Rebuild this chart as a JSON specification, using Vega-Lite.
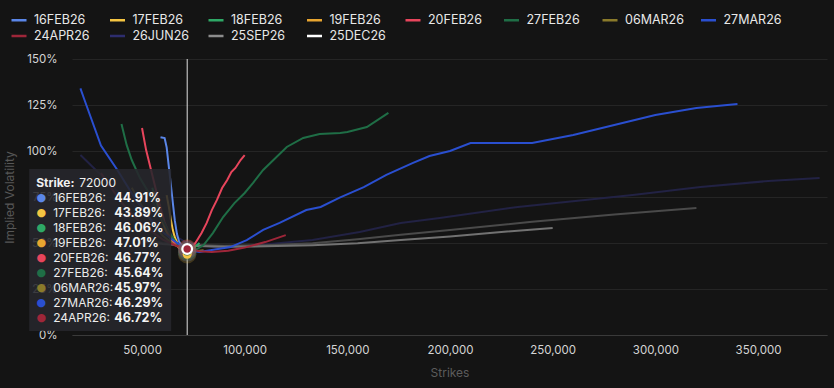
{
  "$schema": "https://vega.github.io/schema/vega-lite/v6.json",
  "width": 755,
  "height": 276,
  "autosize": {"type": "none"},
  "padding": {"left": 72, "top": 59, "right": 7, "bottom": 53},
  "background": "#141414",
  "config": {
    "view": {"stroke": null},
    "font": "Inter",
    "text": {"font": "Inter"},
    "axis": {"labelFont": "Inter", "titleFont": "Inter"}
  },
  "datasets": {
    "curves": [
      {"e": "16FEB26", "k": 59000, "iv": 1.075}, {"e": "16FEB26", "k": 61000, "iv": 1.07}, {"e": "16FEB26", "k": 62000, "iv": 1.02}, {"e": "16FEB26", "k": 63000, "iv": 0.92}, {"e": "16FEB26", "k": 64000, "iv": 0.82}, {"e": "16FEB26", "k": 65000, "iv": 0.72}, {"e": "16FEB26", "k": 66000, "iv": 0.62}, {"e": "16FEB26", "k": 67000, "iv": 0.55}, {"e": "16FEB26", "k": 68000, "iv": 0.51}, {"e": "16FEB26", "k": 70000, "iv": 0.47}, {"e": "16FEB26", "k": 72000, "iv": 0.4491}, {"e": "16FEB26", "k": 74000, "iv": 0.46},
      {"e": "17FEB26", "k": 62000, "iv": 0.76}, {"e": "17FEB26", "k": 63000, "iv": 0.70}, {"e": "17FEB26", "k": 64000, "iv": 0.63}, {"e": "17FEB26", "k": 65000, "iv": 0.57}, {"e": "17FEB26", "k": 66000, "iv": 0.53}, {"e": "17FEB26", "k": 68000, "iv": 0.48}, {"e": "17FEB26", "k": 70000, "iv": 0.455}, {"e": "17FEB26", "k": 72000, "iv": 0.4389}, {"e": "17FEB26", "k": 74000, "iv": 0.445}, {"e": "17FEB26", "k": 76000, "iv": 0.47},
      {"e": "18FEB26", "k": 55000, "iv": 0.80}, {"e": "18FEB26", "k": 58000, "iv": 0.68}, {"e": "18FEB26", "k": 61000, "iv": 0.58}, {"e": "18FEB26", "k": 64000, "iv": 0.52}, {"e": "18FEB26", "k": 67000, "iv": 0.485}, {"e": "18FEB26", "k": 70000, "iv": 0.465}, {"e": "18FEB26", "k": 72000, "iv": 0.4606}, {"e": "18FEB26", "k": 75000, "iv": 0.47}, {"e": "18FEB26", "k": 78000, "iv": 0.50},
      {"e": "19FEB26", "k": 56000, "iv": 0.78}, {"e": "19FEB26", "k": 58000, "iv": 0.70}, {"e": "19FEB26", "k": 60000, "iv": 0.62}, {"e": "19FEB26", "k": 62000, "iv": 0.56}, {"e": "19FEB26", "k": 64000, "iv": 0.52}, {"e": "19FEB26", "k": 66000, "iv": 0.50}, {"e": "19FEB26", "k": 68000, "iv": 0.485}, {"e": "19FEB26", "k": 70000, "iv": 0.475}, {"e": "19FEB26", "k": 72000, "iv": 0.4701}, {"e": "19FEB26", "k": 74000, "iv": 0.47}, {"e": "19FEB26", "k": 76000, "iv": 0.48},
      {"e": "20FEB26", "k": 50000, "iv": 1.125}, {"e": "20FEB26", "k": 52000, "iv": 1.005}, {"e": "20FEB26", "k": 55000, "iv": 0.87}, {"e": "20FEB26", "k": 58000, "iv": 0.734}, {"e": "20FEB26", "k": 61000, "iv": 0.614}, {"e": "20FEB26", "k": 64000, "iv": 0.527}, {"e": "20FEB26", "k": 68000, "iv": 0.473}, {"e": "20FEB26", "k": 72000, "iv": 0.4677}, {"e": "20FEB26", "k": 74000, "iv": 0.473}, {"e": "20FEB26", "k": 76000, "iv": 0.50}, {"e": "20FEB26", "k": 79000, "iv": 0.554}, {"e": "20FEB26", "k": 81500, "iv": 0.609}, {"e": "20FEB26", "k": 84000, "iv": 0.679}, {"e": "20FEB26", "k": 86500, "iv": 0.734}, {"e": "20FEB26", "k": 89000, "iv": 0.799}, {"e": "20FEB26", "k": 91500, "iv": 0.842}, {"e": "20FEB26", "k": 93500, "iv": 0.886}, {"e": "20FEB26", "k": 95500, "iv": 0.908}, {"e": "20FEB26", "k": 98000, "iv": 0.951}, {"e": "20FEB26", "k": 100000, "iv": 0.978},
      {"e": "27FEB26", "k": 40000, "iv": 1.147}, {"e": "27FEB26", "k": 42500, "iv": 1.033}, {"e": "27FEB26", "k": 45000, "iv": 0.951}, {"e": "27FEB26", "k": 49000, "iv": 0.853}, {"e": "27FEB26", "k": 52500, "iv": 0.788}, {"e": "27FEB26", "k": 56000, "iv": 0.707}, {"e": "27FEB26", "k": 60000, "iv": 0.625}, {"e": "27FEB26", "k": 63500, "iv": 0.554}, {"e": "27FEB26", "k": 67500, "iv": 0.489}, {"e": "27FEB26", "k": 72000, "iv": 0.4564}, {"e": "27FEB26", "k": 76000, "iv": 0.462}, {"e": "27FEB26", "k": 80000, "iv": 0.489}, {"e": "27FEB26", "k": 84500, "iv": 0.554}, {"e": "27FEB26", "k": 89500, "iv": 0.641}, {"e": "27FEB26", "k": 95000, "iv": 0.717}, {"e": "27FEB26", "k": 100000, "iv": 0.772}, {"e": "27FEB26", "k": 104000, "iv": 0.826}, {"e": "27FEB26", "k": 109000, "iv": 0.897}, {"e": "27FEB26", "k": 114000, "iv": 0.951}, {"e": "27FEB26", "k": 120500, "iv": 1.022}, {"e": "27FEB26", "k": 128500, "iv": 1.071}, {"e": "27FEB26", "k": 136500, "iv": 1.092}, {"e": "27FEB26", "k": 146500, "iv": 1.098}, {"e": "27FEB26", "k": 150000, "iv": 1.103}, {"e": "27FEB26", "k": 159500, "iv": 1.13}, {"e": "27FEB26", "k": 170000, "iv": 1.207},
      {"e": "06MAR26", "k": 45000, "iv": 0.80}, {"e": "06MAR26", "k": 50000, "iv": 0.70}, {"e": "06MAR26", "k": 55000, "iv": 0.61}, {"e": "06MAR26", "k": 60000, "iv": 0.54}, {"e": "06MAR26", "k": 65000, "iv": 0.495}, {"e": "06MAR26", "k": 70000, "iv": 0.465}, {"e": "06MAR26", "k": 72000, "iv": 0.4597}, {"e": "06MAR26", "k": 76000, "iv": 0.455}, {"e": "06MAR26", "k": 80000, "iv": 0.46},
      {"e": "27MAR26", "k": 20000, "iv": 1.34}, {"e": "27MAR26", "k": 22000, "iv": 1.277}, {"e": "27MAR26", "k": 30000, "iv": 1.03}, {"e": "27MAR26", "k": 38000, "iv": 0.897}, {"e": "27MAR26", "k": 47000, "iv": 0.734}, {"e": "27MAR26", "k": 57000, "iv": 0.587}, {"e": "27MAR26", "k": 65000, "iv": 0.516}, {"e": "27MAR26", "k": 72000, "iv": 0.4629}, {"e": "27MAR26", "k": 78000, "iv": 0.451}, {"e": "27MAR26", "k": 93000, "iv": 0.478}, {"e": "27MAR26", "k": 101000, "iv": 0.516}, {"e": "27MAR26", "k": 109000, "iv": 0.571}, {"e": "27MAR26", "k": 117000, "iv": 0.609}, {"e": "27MAR26", "k": 130000, "iv": 0.679}, {"e": "27MAR26", "k": 137000, "iv": 0.696}, {"e": "27MAR26", "k": 146000, "iv": 0.745}, {"e": "27MAR26", "k": 158000, "iv": 0.804}, {"e": "27MAR26", "k": 169000, "iv": 0.87}, {"e": "27MAR26", "k": 182000, "iv": 0.935}, {"e": "27MAR26", "k": 190000, "iv": 0.973}, {"e": "27MAR26", "k": 200000, "iv": 1.0}, {"e": "27MAR26", "k": 210000, "iv": 1.043}, {"e": "27MAR26", "k": 240000, "iv": 1.043}, {"e": "27MAR26", "k": 260000, "iv": 1.087}, {"e": "27MAR26", "k": 280000, "iv": 1.141}, {"e": "27MAR26", "k": 300000, "iv": 1.196}, {"e": "27MAR26", "k": 320000, "iv": 1.234}, {"e": "27MAR26", "k": 340000, "iv": 1.255},
      {"e": "24APR26", "k": 30000, "iv": 0.88}, {"e": "24APR26", "k": 40000, "iv": 0.72}, {"e": "24APR26", "k": 50000, "iv": 0.60}, {"e": "24APR26", "k": 60000, "iv": 0.52}, {"e": "24APR26", "k": 66000, "iv": 0.488}, {"e": "24APR26", "k": 72000, "iv": 0.4672}, {"e": "24APR26", "k": 78000, "iv": 0.455}, {"e": "24APR26", "k": 84000, "iv": 0.451}, {"e": "24APR26", "k": 92000, "iv": 0.458}, {"e": "24APR26", "k": 100000, "iv": 0.475}, {"e": "24APR26", "k": 110000, "iv": 0.505}, {"e": "24APR26", "k": 120000, "iv": 0.543},
      {"e": "26JUN26", "k": 20000, "iv": 0.978}, {"e": "26JUN26", "k": 30000, "iv": 0.87}, {"e": "26JUN26", "k": 40000, "iv": 0.76}, {"e": "26JUN26", "k": 50000, "iv": 0.67}, {"e": "26JUN26", "k": 60000, "iv": 0.58}, {"e": "26JUN26", "k": 72000, "iv": 0.50}, {"e": "26JUN26", "k": 88000, "iv": 0.473}, {"e": "26JUN26", "k": 107000, "iv": 0.489}, {"e": "26JUN26", "k": 133000, "iv": 0.516}, {"e": "26JUN26", "k": 156000, "iv": 0.56}, {"e": "26JUN26", "k": 176000, "iv": 0.609}, {"e": "26JUN26", "k": 195000, "iv": 0.636}, {"e": "26JUN26", "k": 233000, "iv": 0.696}, {"e": "26JUN26", "k": 289000, "iv": 0.761}, {"e": "26JUN26", "k": 322000, "iv": 0.804}, {"e": "26JUN26", "k": 355000, "iv": 0.837}, {"e": "26JUN26", "k": 380000, "iv": 0.853},
      {"e": "25SEP26", "k": 50000, "iv": 0.52}, {"e": "25SEP26", "k": 60000, "iv": 0.50}, {"e": "25SEP26", "k": 72000, "iv": 0.49}, {"e": "25SEP26", "k": 90000, "iv": 0.485}, {"e": "25SEP26", "k": 110000, "iv": 0.488}, {"e": "25SEP26", "k": 133000, "iv": 0.498}, {"e": "25SEP26", "k": 155000, "iv": 0.52}, {"e": "25SEP26", "k": 176000, "iv": 0.545}, {"e": "25SEP26", "k": 200000, "iv": 0.57}, {"e": "25SEP26", "k": 240000, "iv": 0.615}, {"e": "25SEP26", "k": 280000, "iv": 0.655}, {"e": "25SEP26", "k": 320000, "iv": 0.69},
      {"e": "25DEC26", "k": 50000, "iv": 0.51}, {"e": "25DEC26", "k": 60000, "iv": 0.495}, {"e": "25DEC26", "k": 72000, "iv": 0.485}, {"e": "25DEC26", "k": 90000, "iv": 0.48}, {"e": "25DEC26", "k": 110000, "iv": 0.482}, {"e": "25DEC26", "k": 133000, "iv": 0.488}, {"e": "25DEC26", "k": 155000, "iv": 0.498}, {"e": "25DEC26", "k": 176000, "iv": 0.516}, {"e": "25DEC26", "k": 200000, "iv": 0.535}, {"e": "25DEC26", "k": 225000, "iv": 0.56}, {"e": "25DEC26", "k": 250000, "iv": 0.582}
    ],
    "hover": [
      {"e": "16FEB26", "k": 72000, "iv": 0.4491},
      {"e": "17FEB26", "k": 72000, "iv": 0.4389},
      {"e": "18FEB26", "k": 72000, "iv": 0.4606},
      {"e": "19FEB26", "k": 72000, "iv": 0.4701},
      {"e": "20FEB26", "k": 72000, "iv": 0.4677},
      {"e": "27FEB26", "k": 72000, "iv": 0.4564},
      {"e": "06MAR26", "k": 72000, "iv": 0.4597},
      {"e": "27MAR26", "k": 72000, "iv": 0.4629},
      {"e": "24APR26", "k": 72000, "iv": 0.4672}
    ]
  },
  "layer": [
    {
      "data": {"name": "curves"},
      "transform": [{"filter": "indexof(['26JUN26','25SEP26','25DEC26'], datum.e) >= 0"}],
      "mark": {"type": "line", "strokeWidth": 2},
      "encoding": {
        "x": {"field": "k", "type": "quantitative", "title": "Strikes",
          "scale": {"domain": [15900, 383600], "nice": false, "zero": false},
          "axis": {"values": [50000, 100000, 150000, 200000, 250000, 300000, 350000], "format": ",d", "grid": false, "ticks": false, "domain": true, "domainColor": "#3a3a3a", "labelColor": "#d4d4d4", "labelFontSize": 11.5, "labelPadding": 9, "titleColor": "#5c5c5c", "titleFontSize": 12, "titleFontWeight": "normal", "titlePadding": 12}},
        "y": {"field": "iv", "type": "quantitative", "title": "Implied Volatility",
          "scale": {"domain": [0, 1.5], "nice": false, "zero": true},
          "axis": {"values": [0, 0.25, 0.5, 0.75, 1, 1.25, 1.5], "format": ".0%", "grid": true, "gridColor": "#252525", "ticks": false, "domain": false, "labelColor": "#d4d4d4", "labelFontSize": 11.5, "labelPadding": 15, "titleColor": "#575757", "titleFontSize": 12, "titleFontWeight": "normal", "titlePadding": 10}},
        "stroke": {"field": "e", "type": "nominal",
          "scale": {"domain": ["26JUN26", "25SEP26", "25DEC26"], "range": ["#222244", "#4a4a4a", "#727272"]},
          "legend": null}
      }
    },
    {
      "data": {"name": "curves"},
      "transform": [{"filter": "indexof(['26JUN26','25SEP26','25DEC26'], datum.e) < 0"}],
      "mark": {"type": "line", "strokeWidth": 2},
      "encoding": {
        "x": {"field": "k", "type": "quantitative", "title": "Strikes", "scale": {"domain": [15900, 383600], "nice": false, "zero": false}},
        "y": {"field": "iv", "type": "quantitative", "title": "Implied Volatility", "scale": {"domain": [0, 1.5], "nice": false, "zero": true}},
        "color": {"field": "e", "type": "nominal",
          "scale": {"domain": ["16FEB26", "17FEB26", "18FEB26", "19FEB26", "20FEB26", "27FEB26", "06MAR26", "27MAR26", "24APR26", "26JUN26", "25SEP26", "25DEC26"],
            "range": ["#5a86e8", "#f5c542", "#2ea866", "#e8a530", "#e8455c", "#1f6e46", "#8a7a2a", "#2a4fd0", "#9e2639", "#2d2d6e", "#8c8c8c", "#ffffff"]},
          "legend": {"orient": "none", "legendX": -62, "legendY": -48, "direction": "horizontal", "columns": 8, "title": null,
            "symbolType": "stroke", "symbolStrokeWidth": 2.5, "symbolSize": 225, "labelFontSize": 12.5, "labelColor": "#e8e8e8",
            "labelFont": "Inter", "labelOffset": 6, "columnPadding": 11.5, "rowPadding": 0, "gridAlign": "all"}}
      }
    },
    {
      "data": {"name": "hover"},
      "mark": {"type": "rule", "color": "#e0e0e0", "strokeWidth": 1},
      "encoding": {
        "x": {"aggregate": "mean", "field": "k", "type": "quantitative", "title": "Strikes", "scale": {"domain": [15900, 383600], "nice": false, "zero": false}}
      }
    },
    {
      "data": {"name": "hover"},
      "mark": {"type": "point", "shape": "M-1.58,-0.815H-0.16V0.805H-1.58Z", "size": 40000, "filled": true, "fill": "#27272c", "fillOpacity": 0.88, "strokeWidth": 0},
      "encoding": {
        "x": {"aggregate": "mean", "field": "k", "type": "quantitative", "title": "Strikes", "scale": {"domain": [15900, 383600], "nice": false, "zero": false}},
        "y": {"aggregate": "mean", "field": "iv", "type": "quantitative", "title": "Implied Volatility", "scale": {"domain": [0, 1.5], "nice": false, "zero": true}}
      }
    },
    {
      "data": {"name": "hover"},
      "mark": {"type": "circle", "size": 340, "fillOpacity": 0.2},
      "encoding": {
        "x": {"field": "k", "type": "quantitative", "title": "Strikes", "scale": {"domain": [15900, 383600], "nice": false, "zero": false}},
        "y": {"field": "iv", "type": "quantitative", "title": "Implied Volatility", "scale": {"domain": [0, 1.5], "nice": false, "zero": true}},
        "color": {"field": "e", "type": "nominal"}
      }
    },
    {
      "data": {"name": "hover"},
      "mark": {"type": "circle", "size": 80, "opacity": 1},
      "encoding": {
        "x": {"field": "k", "type": "quantitative", "title": "Strikes", "scale": {"domain": [15900, 383600], "nice": false, "zero": false}},
        "y": {"field": "iv", "type": "quantitative", "title": "Implied Volatility", "scale": {"domain": [0, 1.5], "nice": false, "zero": true}},
        "color": {"field": "e", "type": "nominal"}
      }
    },
    {
      "data": {"name": "hover"},
      "transform": [{"filter": "datum.e == '24APR26'"}],
      "mark": {"type": "circle", "size": 95, "opacity": 1, "stroke": "#ffffff", "strokeWidth": 2.2},
      "encoding": {
        "x": {"field": "k", "type": "quantitative", "title": "Strikes", "scale": {"domain": [15900, 383600], "nice": false, "zero": false}},
        "y": {"field": "iv", "type": "quantitative", "title": "Implied Volatility", "scale": {"domain": [0, 1.5], "nice": false, "zero": true}},
        "color": {"field": "e", "type": "nominal"}
      }
    },
    {
      "data": {"name": "hover"},
      "mark": {"type": "text", "text": "Strike:", "align": "left", "baseline": "middle", "dx": -151, "dy": -67.5, "fontSize": 12, "fontWeight": "bold", "color": "#f0f0f0"},
      "encoding": {
        "x": {"aggregate": "mean", "field": "k", "type": "quantitative", "title": "Strikes", "scale": {"domain": [15900, 383600], "nice": false, "zero": false}},
        "y": {"aggregate": "mean", "field": "iv", "type": "quantitative", "title": "Implied Volatility", "scale": {"domain": [0, 1.5], "nice": false, "zero": true}}
      }
    },
    {
      "data": {"name": "hover"},
      "mark": {"type": "text", "align": "left", "baseline": "middle", "dx": -108, "dy": -67.5, "fontSize": 12, "fontWeight": "normal", "color": "#f0f0f0"},
      "encoding": {
        "x": {"aggregate": "mean", "field": "k", "type": "quantitative", "title": "Strikes", "scale": {"domain": [15900, 383600], "nice": false, "zero": false}},
        "y": {"aggregate": "mean", "field": "iv", "type": "quantitative", "title": "Implied Volatility", "scale": {"domain": [0, 1.5], "nice": false, "zero": true}},
        "text": {"aggregate": "max", "field": "k", "type": "quantitative", "format": "d"}
      }
    },
    {
      "data": {"name": "hover"},
      "transform": [
        {"window": [{"op": "row_number", "as": "r"}]},
        {"joinaggregate": [{"op": "mean", "field": "iv", "as": "m"}]}
      ],
      "layer": [
        {
          "mark": {"type": "text", "text": "●", "align": "center", "baseline": "middle", "dx": -146, "dy": {"expr": "datum.r * 15 - 68"}, "fontSize": 11, "font": "DejaVu Sans"},
          "encoding": {
            "x": {"field": "k", "type": "quantitative", "title": "Strikes", "scale": {"domain": [15900, 383600], "nice": false, "zero": false}},
            "y": {"field": "m", "type": "quantitative", "title": "Implied Volatility", "scale": {"domain": [0, 1.5], "nice": false, "zero": true}},
            "color": {"field": "e", "type": "nominal"}
          }
        },
        {
          "mark": {"type": "text", "text": {"expr": "datum.e + ':'"}, "align": "left", "baseline": "middle", "dx": -134, "dy": {"expr": "datum.r * 15 - 68"}, "fontSize": 12, "color": "#ececec"},
          "encoding": {
            "x": {"field": "k", "type": "quantitative", "title": "Strikes", "scale": {"domain": [15900, 383600], "nice": false, "zero": false}},
            "y": {"field": "m", "type": "quantitative", "title": "Implied Volatility", "scale": {"domain": [0, 1.5], "nice": false, "zero": true}}
          }
        },
        {
          "mark": {"type": "text", "align": "left", "baseline": "middle", "dx": -73, "dy": {"expr": "datum.r * 15 - 68"}, "fontSize": 12.5, "fontWeight": "bold", "color": "#f4f4f4"},
          "encoding": {
            "x": {"field": "k", "type": "quantitative", "title": "Strikes", "scale": {"domain": [15900, 383600], "nice": false, "zero": false}},
            "y": {"field": "m", "type": "quantitative", "title": "Implied Volatility", "scale": {"domain": [0, 1.5], "nice": false, "zero": true}},
            "text": {"field": "iv", "type": "quantitative", "format": ".2%"}
          }
        }
      ]
    }
  ]
}
